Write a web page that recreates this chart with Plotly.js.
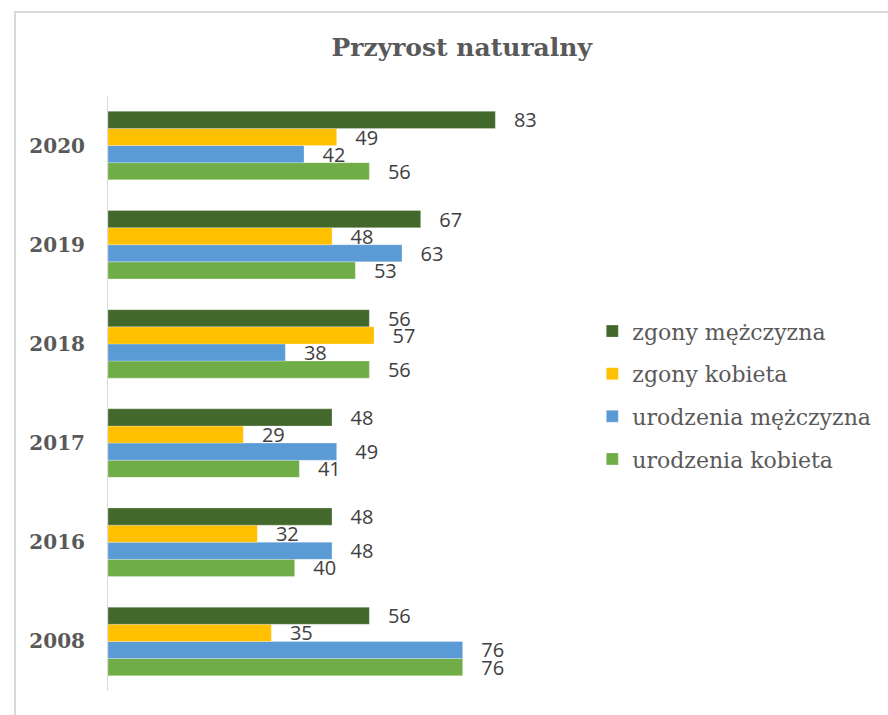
<!DOCTYPE html>
<html>
<head>
<meta charset="utf-8">
<script src="https://cdn.plot.ly/plotly-3.0.1.min.js"></script>
<style>
  html, body { margin: 0; padding: 0; background: #ffffff; }
  #wrap { position: relative; width: 888px; height: 715px; overflow: hidden; }
  #chart { position: absolute; left: 0; top: 0; width: 888px; height: 715px; }
  #frame { position: absolute; left: 14px; top: 11px; width: 900px; height: 720px;
           border: 2px solid #d9d9d9; pointer-events: none; box-sizing: border-box; }
</style>
</head>
<body>
<div id="wrap">
  <div id="chart"></div>
  <div id="frame"></div>
</div>
<script>
// Categories (bottom to top as drawn)
const years = ['2008', '2016', '2017', '2018', '2019', '2020'];

// Series values
const zgonyMezczyzna     = [56, 48, 48, 56, 67, 83];
const zgonyKobieta       = [35, 32, 29, 57, 48, 49];
const urodzeniaMezczyzna = [76, 48, 49, 38, 63, 42];
const urodzeniaKobieta   = [76, 40, 41, 56, 53, 56];

const seriesNames = ['zgony mężczyzna', 'zgony kobieta', 'urodzenia mężczyzna', 'urodzenia kobieta'];
const seriesColors = ['#43682B', '#FFC000', '#5B9BD5', '#70AD47'];

const labelFont = { family: 'Open Sans, sans-serif', size: 20, color: '#404040' };
const pad = '\u00a0\u00a0\u00a0';

function makeTrace(values, idx) {
  return {
    type: 'bar',
    orientation: 'h',
    name: seriesNames[idx],
    legendgroup: 'g' + idx,
    legendrank: idx + 1,
    y: years,
    x: values,
    marker: { color: seriesColors[idx], line: { color: 'rgba(255,255,255,0.5)', width: 0.5 } },
    text: values.map(v => pad + v),
    textposition: 'outside',
    textfont: labelFont,
    constraintext: 'none',
    cliponaxis: false,
    hoverinfo: 'x+name'
  };
}

// Plotly places the first trace at the bottom of each group, so add in reverse
const data = [
  makeTrace(urodzeniaKobieta, 3),
  makeTrace(urodzeniaMezczyzna, 2),
  makeTrace(zgonyKobieta, 1),
  makeTrace(zgonyMezczyzna, 0)
];

const layout = {
  width: 888,
  height: 715,
  margin: { l: 108, r: 360, t: 96, b: 24, pad: 0, autoexpand: false },
  paper_bgcolor: '#ffffff',
  plot_bgcolor: '#ffffff',
  barmode: 'group',
  bargap: 0.31,
  bargroupgap: 0,
  title: {
    text: '<b>Przyrost naturalny</b>',
    font: { family: 'DejaVu Serif, serif', size: 25, color: '#595959' },
    x: 0.52, xref: 'container', xanchor: 'center',
    y: 0.934, yref: 'container', yanchor: 'middle'
  },
  xaxis: {
    range: [0, 90],
    showgrid: false,
    zeroline: false,
    showline: false,
    showticklabels: false,
    ticks: ''
  },
  yaxis: {
    type: 'category',
    categoryorder: 'array',
    categoryarray: years,
    showgrid: false,
    zeroline: false,
    showline: true,
    linecolor: '#d9d9d9',
    linewidth: 1,
    ticks: '',
    ticklabelstandoff: 18,
    tickfont: { family: 'DejaVu Serif, serif', size: 20, color: '#595959', weight: 'bold' }
  },
  showlegend: true,
  legend: {
    xref: 'container', yref: 'container',
    x: 0.667, xanchor: 'left',
    y: 0.566, yanchor: 'top',
    traceorder: 'grouped',
    tracegroupgap: 11,
    font: { family: 'DejaVu Serif, serif', size: 22, color: '#595959' },
    bgcolor: 'rgba(0,0,0,0)',
    itemclick: false
  }
};

Plotly.newPlot('chart', data, layout, { displayModeBar: false, staticPlot: true });
</script>
</body>
</html>
